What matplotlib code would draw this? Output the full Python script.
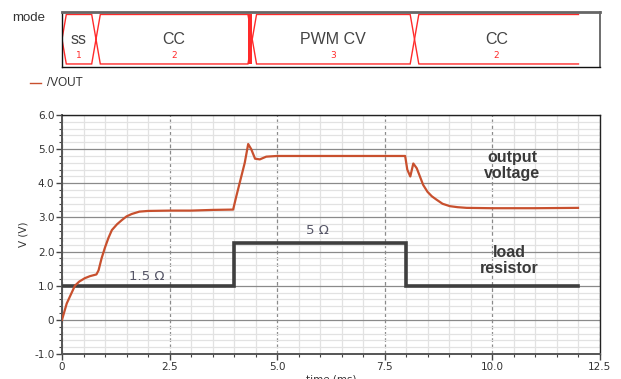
import matplotlib
matplotlib.use("Agg")
import matplotlib.pyplot as plt
from matplotlib.ticker import MultipleLocator, FuncFormatter
from matplotlib.patches import Rectangle

# ---------------- data ----------------
vout_t = [0, 0.11, 0.3, 0.4, 0.53, 0.65, 0.8, 0.85, 0.92, 1.0, 1.08, 1.16, 1.28, 1.39,
          1.5, 1.62, 1.8, 2.0, 2.5, 3.0, 3.5, 3.98, 4.05, 4.15, 4.25, 4.33, 4.4, 4.49,
          4.6, 4.75, 5.0, 6.0, 7.0, 7.98, 8.03, 8.1, 8.17, 8.25, 8.4, 8.5, 8.6, 8.71,
          8.85, 9.02, 9.2, 9.41, 10.0, 11.0, 12.0]
vout_v = [0, 0.48, 1.0, 1.12, 1.22, 1.28, 1.33, 1.45, 1.8, 2.12, 2.4, 2.63, 2.8, 2.92,
          3.03, 3.1, 3.17, 3.19, 3.2, 3.2, 3.22, 3.23, 3.6, 4.1, 4.6, 5.15, 5.0, 4.72,
          4.7, 4.78, 4.8, 4.8, 4.8, 4.8, 4.4, 4.2, 4.58, 4.44, 3.95, 3.75, 3.62, 3.52,
          3.4, 3.33, 3.3, 3.28, 3.27, 3.27, 3.28]

load_t = [0, 4.0, 8.0, 12.0]
load_v = [1.0, 2.25, 1.0, 1.0]

mode_names = ["ss", "CC", "PWM CV", "CC"]
mode_codes = [1, 2, 3, 2]
mode_bounds = [0.0, 0.79, 4.42, 8.19, 12.0]
mode_glitch = (4.33, 4.42)

load_labels = ["1.5 \u03a9", "5 \u03a9"]
load_label_pos = [(1.97, 1.27), (5.95, 2.62)]

x_ticks = [0, 2.5, 5.0, 7.5, 10.0, 12.5]
y_ticks = [-1, 0, 1, 2, 3, 4, 5, 6]

# ---------------- figure ----------------
W, H = 621, 379
fig = plt.figure(figsize=(W / 100, H / 100), dpi=100)

def fx(px):
    return px / W

def fy(py):
    return 1 - py / H

RED = "#ff2a2a"
VCOL = "#c8502e"
TXT = "#333333"

# ----- mode (digital bus) panel -----
axm = fig.add_axes([fx(62), fy(67), fx(600) - fx(62), fy(12) - fy(67)])
axm.set_xlim(0, 12.5)
axm.set_ylim(0, 1)
axm.set_xticks([])
axm.set_yticks([])
for side in ["left", "bottom"]:
    axm.spines[side].set_color("#111111")
    axm.spines[side].set_linewidth(1.0)
axm.spines["top"].set_color("#666666")
axm.spines["top"].set_linewidth(2.0)
axm.spines["right"].set_color("#555555")
axm.spines["right"].set_linewidth(1.2)

top, bot, mid = 0.955, 0.055, 0.505
d = 0.1
n = len(mode_names)
for i in range(n):
    a, b = mode_bounds[i], mode_bounds[i + 1]
    if i == 0 and False:
        pass
    if i < n - 1:
        xs = [a, a + d, b - d, b, b - d, a + d, a]
        ys = [mid, top, top, mid, bot, bot, mid]
        axm.plot(xs, ys, color=RED, lw=1.0, solid_joinstyle="miter")
    else:
        axm.plot([b, a + d, a, a + d, b], [top, top, mid, bot, bot], color=RED, lw=1.0)
    xc = (a + b) / 2
    axm.text(xc, 0.5, mode_names[i], ha="center", va="center", fontsize=11.5,
             color="#444444", family="Liberation Sans")
    axm.text(xc, 0.21, str(mode_codes[i]), ha="center", va="center", fontsize=6.5,
             color=RED, family="DejaVu Sans")
axm.add_patch(Rectangle((mode_glitch[0], bot), mode_glitch[1] - mode_glitch[0], top - bot,
                        color=RED, lw=0))

fig.text(fx(12), fy(18), "mode", ha="left", va="center", fontsize=9.5,
         color=TXT, family="Liberation Sans")

# legend
fig.add_artist(plt.Line2D([fx(30), fx(41)], [fy(83), fy(83)], color=VCOL, lw=1.0))
fig.text(fx(47), fy(83), "/VOUT", ha="left", va="center", fontsize=8.5,
         color=TXT, family="Liberation Sans")

# ----- main axes -----
ax = fig.add_axes([fx(62), fy(354), fx(599.5) - fx(62), fy(115) - fy(354)])
ax.set_xlim(0, 12.5)
ax.set_ylim(-1, 6)

ax.xaxis.set_major_locator(MultipleLocator(2.5))
ax.xaxis.set_minor_locator(MultipleLocator(0.5))
ax.yaxis.set_major_locator(MultipleLocator(1.0))
ax.yaxis.set_minor_locator(MultipleLocator(0.2))

def xfmt(v, p):
    return "0" if abs(v) < 1e-9 else f"{v:.1f}"

ax.xaxis.set_major_formatter(FuncFormatter(xfmt))
ax.yaxis.set_major_formatter(FuncFormatter(xfmt))

ax.grid(which="minor", axis="both", color="#e2e2e2", lw=0.9)
ax.grid(which="major", axis="y", color="#8a8a8a", lw=0.9)
ax.grid(which="major", axis="x", color="#8a8a8a", lw=0.9, ls=(0, (3, 2)))
ax.set_axisbelow(True)

ax.tick_params(which="major", direction="out", length=4, width=1, color="#444444",
               labelsize=7.5, labelcolor=TXT, pad=1.5)
ax.tick_params(which="minor", direction="out", length=2.5, width=0.8, color="#444444")
ax.tick_params(top=False, right=False)
for lab in ax.get_xticklabels() + ax.get_yticklabels():
    lab.set_family("DejaVu Sans")

for side in ["left", "bottom"]:
    ax.spines[side].set_color("#555555")
    ax.spines[side].set_linewidth(1.4)
for side in ["top", "right"]:
    ax.spines[side].set_color("#222222")
    ax.spines[side].set_linewidth(1.0)

ax.plot(load_t, load_v, color="#3f3f3f", lw=2.6, drawstyle="steps-post",
        solid_joinstyle="miter", zorder=3)
ax.plot(vout_t, vout_v, color=VCOL, lw=1.6, zorder=4)

for lab, (lx, ly) in zip(load_labels, load_label_pos):
    ax.text(lx, ly, lab, ha="center", va="center", fontsize=9.5, color="#555566",
            family="DejaVu Sans", zorder=5)

ax.text(10.47, 4.52, "output\nvoltage", ha="center", va="center", fontsize=11.5,
        fontweight="bold", color="#3a3a3a", family="Liberation Sans",
        linespacing=1.05, zorder=5)
ax.text(10.4, 1.73, "load\nresistor", ha="center", va="center", fontsize=11.5,
        fontweight="bold", color="#3a3a3a", family="Liberation Sans",
        linespacing=1.05, zorder=5)

ax.set_ylabel("V (V)", fontsize=7.5, color=TXT, family="DejaVu Sans", labelpad=4)
fig.text(fx(331), fy(375), "time (ms)", ha="center", va="top", fontsize=7.5,
         color=TXT, family="DejaVu Sans")

fig.savefig("out.png", dpi=100)
